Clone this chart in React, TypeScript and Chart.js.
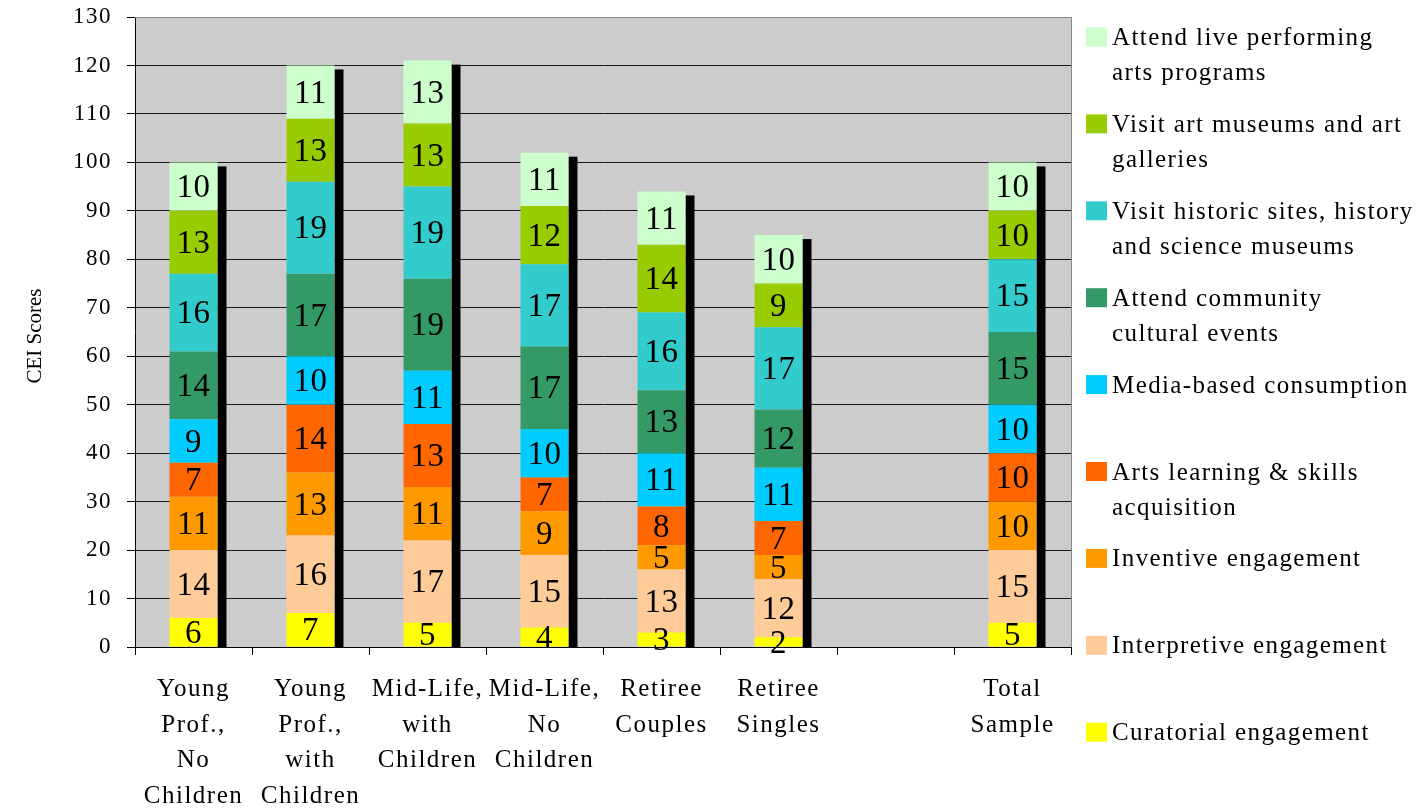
import React, { useEffect, useRef } from 'react';
import { Chart, registerables } from 'chart.js';

Chart.register(...registerables);

const categories: (string | string[])[] = [
  ['Young', 'Prof.,', 'No', 'Children'],
  ['Young', 'Prof.,', 'with', 'Children'],
  ['Mid-Life,', 'with', 'Children'],
  ['Mid-Life,', 'No', 'Children'],
  ['Retiree', 'Couples'],
  ['Retiree', 'Singles'],
  '',
  ['Total', 'Sample'],
];

const curatorial = [6, 7, 5, 4, 3, 2, null, 5];
const interpretive = [14, 16, 17, 15, 13, 12, null, 15];
const inventive = [11, 13, 11, 9, 5, 5, null, 10];
const artsLearning = [7, 14, 13, 7, 8, 7, null, 10];
const media = [9, 10, 11, 10, 11, 11, null, 10];
const community = [14, 17, 19, 17, 13, 12, null, 15];
const historic = [16, 19, 19, 17, 16, 17, null, 15];
const artMuseums = [13, 13, 13, 12, 14, 9, null, 10];
const livePerforming = [10, 11, 13, 11, 11, 10, null, 10];

const seriesNames = [
  'Curatorial engagement',
  'Interpretive engagement',
  'Inventive engagement',
  'Arts learning & skills acquisition',
  'Media-based consumption',
  'Attend community cultural events',
  'Visit historic sites, history and science museums',
  'Visit art museums and art galleries',
  'Attend live performing arts programs',
];

const legendLines: string[][] = [
  ['Curatorial engagement'],
  ['Interpretive engagement'],
  ['Inventive engagement'],
  ['Arts learning & skills', 'acquisition'],
  ['Media-based consumption'],
  ['Attend community', 'cultural events'],
  ['Visit historic sites, history', 'and science museums'],
  ['Visit art museums and art', 'galleries'],
  ['Attend live performing', 'arts programs'],
];

const seriesColors = [
  '#FFFF00',
  '#FFCC99',
  '#FF9900',
  '#FF6600',
  '#00CCFF',
  '#339966',
  '#33CCCC',
  '#99CC00',
  '#CCFFCC',
];

const seriesData = [
  curatorial,
  interpretive,
  inventive,
  artsLearning,
  media,
  community,
  historic,
  artMuseums,
  livePerforming,
];

const yTicksMin = 0;
const yTicksMax = 130;
const yTicksStep = 10;
const yTitle = 'CEI Scores';

const FONT = '"Liberation Serif", "Times New Roman", serif';

export default function App() {
  const ref = useRef<HTMLCanvasElement>(null);

  useEffect(() => {
    const canvas = ref.current!;
    const ctx = canvas.getContext('2d')!;

    const bgPlugin = {
      id: 'bgPlugin',
      beforeDraw(chart: any) {
        const { ctx, chartArea } = chart;
        const { left, top, right, bottom } = chartArea;
        ctx.save();
        ctx.fillStyle = '#CCCCCC';
        ctx.fillRect(left, top, right - left, bottom - top);
        ctx.restore();
        (ctx as any).letterSpacing = '1.5px';
      },
    };

    const shadowPlugin = {
      id: 'shadowPlugin',
      beforeDatasetsDraw(chart: any) {
        const { ctx } = chart;
        const base = chart.scales.y.getPixelForValue(0);
        const n = chart.data.labels.length;
        ctx.save();
        ctx.fillStyle = '#000000';
        for (let i = 0; i < n; i++) {
          let topY = Infinity;
          let rightX = 0;
          let found = false;
          chart.data.datasets.forEach((ds: any, di: number) => {
            const v = ds.data[i];
            if (v === null || v === undefined) return;
            const el = chart.getDatasetMeta(di).data[i] as any;
            if (!el) return;
            found = true;
            topY = Math.min(topY, el.y);
            rightX = el.x + el.width / 2;
          });
          if (!found) continue;
          ctx.fillRect(rightX, topY + 4, 9, base - topY - 4);
        }
        ctx.restore();
      },
    };

    const labelPlugin = {
      id: 'labelPlugin',
      afterDatasetsDraw(chart: any) {
        const { ctx } = chart;
        ctx.save();
        (ctx as any).letterSpacing = '0.5px';
        ctx.font = `33px ${FONT}`;
        ctx.fillStyle = '#000000';
        ctx.textAlign = 'center';
        ctx.textBaseline = 'middle';
        chart.data.datasets.forEach((ds: any, di: number) => {
          const meta = chart.getDatasetMeta(di);
          meta.data.forEach((el: any, i: number) => {
            const v = ds.data[i];
            if (v === null || v === undefined) return;
            ctx.fillText(String(v), el.x, (el.y + el.base) / 2 + 2);
          });
        });
        ctx.restore();
      },
    };

    const framePlugin = {
      id: 'framePlugin',
      afterDraw(chart: any) {
        const { ctx, chartArea } = chart;
        const { left, top, right, bottom } = chartArea;
        ctx.save();
        (ctx as any).letterSpacing = '0px';
        ctx.strokeStyle = '#888888';
        ctx.lineWidth = 1;
        ctx.beginPath();
        ctx.moveTo(left, top + 0.5);
        ctx.lineTo(right + 0.5, top + 0.5);
        ctx.lineTo(right + 0.5, bottom);
        ctx.stroke();

        // y-axis title
        ctx.fillStyle = '#000000';
        ctx.font = `21px ${FONT}`;
        ctx.textAlign = 'center';
        ctx.textBaseline = 'middle';
        ctx.translate(35, 336);
        ctx.rotate(-Math.PI / 2);
        ctx.fillText(yTitle, 0, 0);
        ctx.restore();

        // legend (top entry = last dataset)
        ctx.save();
        (ctx as any).letterSpacing = '1.4px';
        ctx.font = `25px ${FONT}`;
        ctx.textAlign = 'left';
        ctx.textBaseline = 'alphabetic';
        const count = chart.data.datasets.length;
        for (let k = 0; k < count; k++) {
          const di = count - 1 - k;
          const cy = 37 + k * 86.9;
          ctx.fillStyle = chart.data.datasets[di].backgroundColor;
          ctx.fillRect(1086, cy - 9.5, 21, 19);
          ctx.fillStyle = '#000000';
          const lines = legendLines[di];
          lines.forEach((ln, li) => {
            ctx.fillText(ln, 1112, cy + 8 + li * 35);
          });
        }
        ctx.restore();
      },
    };

    const chart = new Chart(ctx, {
      type: 'bar',
      data: {
        labels: categories,
        datasets: seriesData.map((d, i) => ({
          label: seriesNames[i],
          data: d,
          backgroundColor: seriesColors[i],
          borderWidth: 0,
          categoryPercentage: 1,
          barPercentage: 0.41,
        })),
      },
      options: {
        responsive: false,
        animation: false,
        events: [],
        layout: {
          padding: { top: 17, right: 349, bottom: 0, left: 0 },
        },
        plugins: {
          legend: { display: false },
          tooltip: { enabled: false },
          title: { display: false },
        },
        scales: {
          x: {
            stacked: true,
            afterFit(scale: any) {
              scale.height = 164;
              scale.paddingLeft = 0;
              scale.paddingRight = 0;
            },
            grid: {
              display: true,
              drawOnChartArea: false,
              drawTicks: true,
              tickLength: 8,
              offset: true,
              color: '#000000',
            },
            border: { display: true, color: '#000000', width: 1 },
            ticks: {
              color: '#000000',
              font: { family: FONT, size: 25, lineHeight: 1.42 },
              padding: 17,
              maxRotation: 0,
              minRotation: 0,
              autoSkip: false,
            },
          },
          y: {
            stacked: true,
            min: yTicksMin,
            max: yTicksMax,
            afterFit(scale: any) {
              scale.width = 135;
              scale.paddingTop = 0;
              scale.paddingBottom = 0;
            },
            grid: {
              display: true,
              drawTicks: true,
              tickLength: 8,
              color: (c: any) => (c.tick && c.tick.value === yTicksMax ? '#888888' : '#1a1a1a'),
              tickColor: '#000000',
            },
            border: { display: true, color: '#000000', width: 1 },
            ticks: {
              stepSize: yTicksStep,
              color: '#000000',
              font: { family: FONT, size: 23 },
              padding: 15,
            },
          },
        },
      },
      plugins: [bgPlugin, shadowPlugin, labelPlugin, framePlugin],
    } as any);

    return () => chart.destroy();
  }, []);

  return (
    <div style={{ position: 'fixed', left: 0, top: 0, width: 1420, height: 811, background: '#ffffff' }}>
      <canvas ref={ref} width={1420} height={811} style={{ display: 'block' }} />
    </div>
  );
}
